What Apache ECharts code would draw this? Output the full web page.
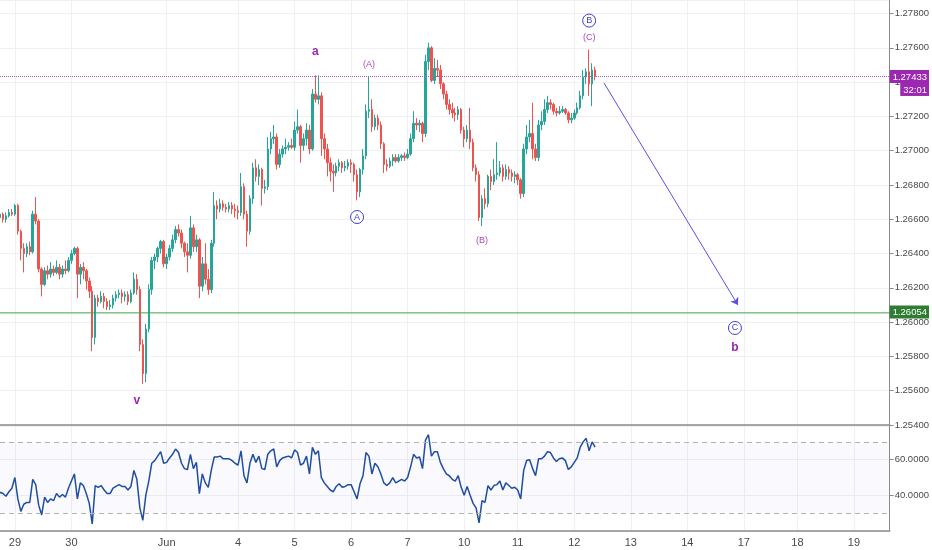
<!DOCTYPE html>
<html lang="en">
<head>
    <meta charset="UTF-8">
    <title>GBPUSD waves</title>
    <style>
        html, body { margin: 0; padding: 0; background: #fff; }
        #container { width: 932px; height: 550px; }
    </style>
</head>
<body>
    <div id="container"></div>
    <script src="https://cdn.jsdelivr.net/npm/echarts@6/dist/echarts.min.js"></script>
    <script>
        // hourly bars, [open, close, low, high]
        var candles = [
            [1.2661,1.2663,1.2659,1.2666],[1.2663,1.2660,1.2658,1.2664],[1.2660,1.2662,1.2658,1.2664],[1.2662,1.2664,1.2661,1.2666],
            [1.2664,1.2663,1.2662,1.2666],[1.2663,1.2668,1.2662,1.2669],[1.2668,1.2653,1.2651,1.2669],[1.2653,1.2643,1.2636,1.2654],
            [1.2643,1.2640,1.2629,1.2646],[1.2640,1.2644,1.2638,1.2646],[1.2644,1.2641,1.2639,1.2647],[1.2641,1.2663,1.2640,1.2665],
            [1.2663,1.2659,1.2657,1.2673],[1.2659,1.2631,1.2629,1.2660],[1.2631,1.2622,1.2615,1.2632],[1.2622,1.2630,1.2621,1.2632],
            [1.2630,1.2628,1.2625,1.2633],[1.2628,1.2631,1.2626,1.2635],[1.2631,1.2629,1.2627,1.2633],[1.2629,1.2632,1.2628,1.2636],
            [1.2632,1.2628,1.2625,1.2634],[1.2628,1.2631,1.2626,1.2633],[1.2631,1.2630,1.2628,1.2636],[1.2630,1.2636,1.2629,1.2638],
            [1.2636,1.2640,1.2634,1.2642],[1.2640,1.2643,1.2639,1.2644],[1.2643,1.2628,1.2614,1.2644],[1.2628,1.2632,1.2622,1.2634],
            [1.2632,1.2630,1.2625,1.2635],[1.2630,1.2624,1.2619,1.2631],[1.2624,1.2618,1.2614,1.2626],[1.2618,1.2591,1.2583,1.2621],
            [1.2591,1.2614,1.2587,1.2616],[1.2614,1.2612,1.2609,1.2616],[1.2612,1.2615,1.2611,1.2618],[1.2615,1.2612,1.2608,1.2617],
            [1.2612,1.2609,1.2607,1.2614],[1.2609,1.2610,1.2607,1.2613],[1.2610,1.2614,1.2608,1.2616],[1.2614,1.2616,1.2612,1.2618],
            [1.2616,1.2617,1.2614,1.2619],[1.2617,1.2615,1.2611,1.2619],[1.2615,1.2616,1.2612,1.2618],[1.2616,1.2612,1.2610,1.2618],
            [1.2612,1.2617,1.2611,1.2619],[1.2617,1.2625,1.2616,1.2629],[1.2625,1.2619,1.2616,1.2628],[1.2619,1.2587,1.2583,1.2621],
            [1.2587,1.2570,1.2564,1.2590],[1.2570,1.2596,1.2565,1.2599],[1.2596,1.2619,1.2594,1.2622],[1.2619,1.2636,1.2616,1.2638],
            [1.2636,1.2638,1.2631,1.2640],[1.2638,1.2643,1.2635,1.2644],[1.2643,1.2647,1.2640,1.2648],[1.2647,1.2634,1.2632,1.2648],
            [1.2634,1.2638,1.2631,1.2640],[1.2638,1.2643,1.2636,1.2645],[1.2643,1.2648,1.2641,1.2651],[1.2648,1.2654,1.2646,1.2656],
            [1.2654,1.2652,1.2650,1.2657],[1.2652,1.2646,1.2643,1.2654],[1.2646,1.2641,1.2638,1.2647],[1.2641,1.2639,1.2629,1.2646],
            [1.2639,1.2655,1.2637,1.2662],[1.2655,1.2644,1.2641,1.2657],[1.2644,1.2648,1.2641,1.2651],[1.2648,1.2621,1.2614,1.2649],
            [1.2621,1.2634,1.2618,1.2638],[1.2634,1.2625,1.2622,1.2646],[1.2625,1.2619,1.2616,1.2631],[1.2619,1.2646,1.2617,1.2648],
            [1.2646,1.2668,1.2644,1.2676],[1.2668,1.2666,1.2660,1.2671],[1.2666,1.2669,1.2664,1.2672],[1.2669,1.2667,1.2665,1.2671],
            [1.2667,1.2666,1.2664,1.2669],[1.2666,1.2668,1.2664,1.2670],[1.2668,1.2666,1.2663,1.2670],[1.2666,1.2665,1.2661,1.2669],
            [1.2665,1.2664,1.2660,1.2668],[1.2664,1.2679,1.2662,1.2687],[1.2679,1.2663,1.2660,1.2681],[1.2663,1.2653,1.2644,1.2665],
            [1.2653,1.2672,1.2651,1.2674],[1.2672,1.2690,1.2669,1.2693],[1.2690,1.2685,1.2682,1.2695],[1.2685,1.2689,1.2680,1.2692],
            [1.2689,1.2678,1.2668,1.2690],[1.2678,1.2679,1.2675,1.2683],[1.2679,1.2701,1.2677,1.2708],[1.2701,1.2707,1.2698,1.2711],
            [1.2707,1.2708,1.2704,1.2715],[1.2708,1.2692,1.2689,1.2710],[1.2692,1.2698,1.2690,1.2701],[1.2698,1.2701,1.2696,1.2703],
            [1.2701,1.2702,1.2698,1.2707],[1.2702,1.2703,1.2700,1.2705],[1.2703,1.2702,1.2701,1.2707],[1.2702,1.2712,1.2700,1.2717],
            [1.2712,1.2714,1.2710,1.2724],[1.2714,1.2703,1.2693,1.2715],[1.2703,1.2707,1.2700,1.2710],[1.2707,1.2712,1.2703,1.2716],
            [1.2712,1.2701,1.2698,1.2715],[1.2701,1.2733,1.2700,1.2736],[1.2733,1.2730,1.2728,1.2744],[1.2730,1.2732,1.2727,1.2744],
            [1.2732,1.2707,1.2697,1.2734],[1.2707,1.2701,1.2695,1.2710],[1.2701,1.2693,1.2685,1.2704],[1.2693,1.2688,1.2682,1.2696],
            [1.2688,1.2687,1.2676,1.2692],[1.2687,1.2691,1.2685,1.2693],[1.2691,1.2693,1.2688,1.2695],[1.2693,1.2690,1.2687,1.2694],
            [1.2690,1.2691,1.2688,1.2694],[1.2691,1.2693,1.2689,1.2695],[1.2693,1.2692,1.2687,1.2695],[1.2692,1.2686,1.2682,1.2693],
            [1.2686,1.2676,1.2671,1.2689],[1.2676,1.2689,1.2673,1.2690],[1.2689,1.2697,1.2686,1.2701],[1.2697,1.2723,1.2695,1.2727],
            [1.2723,1.2724,1.2719,1.2743],[1.2724,1.2714,1.2711,1.2730],[1.2714,1.2719,1.2712,1.2721],[1.2719,1.2715,1.2712,1.2721],
            [1.2715,1.2704,1.2701,1.2717],[1.2704,1.2692,1.2687,1.2705],[1.2692,1.2691,1.2688,1.2695],[1.2691,1.2694,1.2690,1.2696],
            [1.2694,1.2696,1.2691,1.2698],[1.2696,1.2694,1.2693,1.2698],[1.2694,1.2696,1.2693,1.2698],[1.2696,1.2697,1.2694,1.2698],
            [1.2697,1.2696,1.2694,1.2699],[1.2696,1.2698,1.2695,1.2701],[1.2698,1.2707,1.2697,1.2710],[1.2707,1.2716,1.2705,1.2723],
            [1.2716,1.2715,1.2712,1.2719],[1.2715,1.2716,1.2711,1.2718],[1.2716,1.2710,1.2705,1.2717],[1.2710,1.2752,1.2708,1.2756],
            [1.2752,1.2760,1.2747,1.2763],[1.2760,1.2741,1.2740,1.2761],[1.2741,1.2748,1.2739,1.2754],[1.2748,1.2747,1.2743,1.2753],
            [1.2747,1.2739,1.2736,1.2750],[1.2739,1.2733,1.2730,1.2740],[1.2733,1.2727,1.2724,1.2735],[1.2727,1.2724,1.2721,1.2730],
            [1.2724,1.2722,1.2719,1.2728],[1.2722,1.2721,1.2717,1.2725],[1.2721,1.2724,1.2718,1.2726],[1.2724,1.2712,1.2710,1.2725],
            [1.2712,1.2707,1.2702,1.2714],[1.2707,1.2712,1.2705,1.2715],[1.2712,1.2705,1.2701,1.2725],[1.2705,1.2690,1.2688,1.2707],
            [1.2690,1.2686,1.2682,1.2692],[1.2686,1.2661,1.2659,1.2688],[1.2661,1.2672,1.2656,1.2674],[1.2672,1.2669,1.2666,1.2678],
            [1.2669,1.2685,1.2667,1.2686],[1.2685,1.2682,1.2677,1.2689],[1.2682,1.2686,1.2680,1.2695],[1.2686,1.2687,1.2683,1.2705],
            [1.2687,1.2690,1.2685,1.2694],[1.2690,1.2685,1.2682,1.2692],[1.2685,1.2689,1.2683,1.2692],[1.2689,1.2687,1.2683,1.2691],
            [1.2687,1.2685,1.2682,1.2689],[1.2685,1.2686,1.2681,1.2688],[1.2686,1.2683,1.2680,1.2687],[1.2683,1.2675,1.2672,1.2684],
            [1.2675,1.2701,1.2673,1.2704],[1.2701,1.2708,1.2698,1.2715],[1.2708,1.2710,1.2705,1.2718],[1.2710,1.2701,1.2695,1.2728],
            [1.2701,1.2696,1.2694,1.2704],[1.2696,1.2715,1.2694,1.2718],[1.2715,1.2717,1.2712,1.2723],[1.2717,1.2724,1.2715,1.2730],
            [1.2724,1.2728,1.2722,1.2732],[1.2728,1.2727,1.2724,1.2730],[1.2727,1.2723,1.2721,1.2728],[1.2723,1.2722,1.2720,1.2725],
            [1.2722,1.2723,1.2721,1.2726],[1.2723,1.2724,1.2722,1.2726],[1.2724,1.2722,1.2721,1.2725],[1.2722,1.2718,1.2716,1.2723],
            [1.2718,1.2719,1.2716,1.2722],[1.2719,1.2722,1.2718,1.2724],[1.2722,1.2725,1.2721,1.2728],[1.2725,1.2732,1.2724,1.2735],
            [1.2732,1.2743,1.2730,1.2747],[1.2743,1.2746,1.2739,1.2748],[1.2746,1.2739,1.2732,1.2759],[1.2739,1.2747,1.2726,1.2751],
            [1.2747,1.27433,1.2741,1.2749]
        ];

        var rsi = [
            41.7,41,39.5,42,44,50,38,31,35,36,36,49,46,34.5,29,39,36,38,37,41,
            39,40.5,39,44,48,52,38,47,45.5,41,35.5,24,45.5,44.5,45.5,43,41,41,44,45,
            46,45,45,43,45,54,49,33,26,40,48,58,59.5,62,64.5,58,58.5,61,63,66,
            64,58,55,54.5,63,55,58.5,41,52,47,44.5,54,61.5,61.5,62,60.5,60.5,60.5,59.5,58,
            57,65,51,47,58,63,58.5,62,55,54.5,63,65,66,56,59.5,61,61.5,62,61,65.5,
            64,57,58,62,52,67,63,65,50,47,45,43,42,45,46.5,44.5,45,46,46,42,
            38,46.5,51,64,62,52,58,56,52,47,45.5,47,50,47,48,49,48,50,56,63,
            61,61.5,55,71,74,62,64.5,64.5,58.5,55,52,51,49,48,51,44.5,40,45,40,35.5,
            33,24.5,37,36,45.5,43,45.5,46,48,43,47,45.5,44,44.5,43,38,54,59.5,60,55,
            51,60.5,60.5,62,64.5,64,61,59,60.5,61,59.5,54.5,56,58.5,61,67,70,72,65,70,
            67
        ];

        // x slots (bars + empty future space) and day labels on them
        var SLOT_COUNT = 300;
        var dayTicks = [[5, '29'], [24, '30'], [56, 'Jun'], [80, '4'], [99, '5'], [118, '6'], [137, '7'],
            [156, '10'], [174, '11'], [193, '12'], [212, '13'], [231, '14'], [250, '17'], [268, '18'], [287, '19']];

        var lastPrice = 1.27433;
        var countdown = '32:01';
        var supportLevel = 1.26054;

        // wave marks: [text, bar index, price]
        var waveText = [['a', 106, 1.27576], ['b', 247, 1.25849], ['v', 46, 1.25540]];
        var waveSubText = [['(A)', 124, 1.27500], ['(B)', 162, 1.26479], ['(C)', 198, 1.27663]];
        var waveCircles = [['A', 120, 1.26613], ['B', 198, 1.27759], ['C', 247, 1.25966]];
        var arrowFrom = [202.5, 1.27395];
        var arrowTo = [248, 1.26100];

        var dayMap = {};
        dayTicks.forEach(function (d) { dayMap[d[0]] = d[1]; });
        var slots = [];
        for (var i = 0; i < SLOT_COUNT; i++) slots.push('s' + i);
        function isDay(idx) { return dayMap[idx] !== undefined; }

        var FONT = '"Liberation Sans", Arial, sans-serif';
        var PURPLE = '#9c27b0';
        var BLUE = '#3d3dd0';
        var gridColor = '#eef0f4';

        var marks = [];
        waveText.forEach(function (w) {
            marks.push({
                coord: [w[1], w[2]], symbol: 'circle', symbolSize: 1,
                itemStyle: { color: 'rgba(0,0,0,0)' },
                label: { show: true, position: 'inside', formatter: w[0], color: PURPLE, fontSize: 12, fontWeight: 'bold', fontFamily: FONT }
            });
        });
        waveSubText.forEach(function (w) {
            marks.push({
                coord: [w[1], w[2]], symbol: 'circle', symbolSize: 1,
                itemStyle: { color: 'rgba(0,0,0,0)' },
                label: { show: true, position: 'inside', formatter: w[0], color: '#ab47bc', fontSize: 9, fontFamily: FONT }
            });
        });
        waveCircles.forEach(function (w) {
            marks.push({
                coord: [w[1], w[2]], symbol: 'circle', symbolSize: 13,
                itemStyle: { color: '#fff', borderColor: BLUE, borderWidth: 1 },
                label: { show: true, position: 'inside', formatter: w[0], color: BLUE, fontSize: 9, fontFamily: FONT }
            });
        });

        var dom = document.getElementById('container');
        var myChart = echarts.init(dom);
        var option = {
            animation: false,
            backgroundColor: '#ffffff',
            textStyle: { fontFamily: FONT },
            grid: [
                { left: 0, right: 34, top: 0, height: 425 },
                { left: 0, right: 34, top: 426, height: 105 }
            ],
            xAxis: [
                {
                    type: 'category', gridIndex: 0, data: slots, boundaryGap: false,
                    axisLine: { show: true, lineStyle: { color: '#8a8a8a', width: 1.5 } },
                    axisTick: { show: false }, axisLabel: { show: false },
                    splitLine: { show: true, interval: isDay, lineStyle: { color: gridColor } }
                },
                {
                    type: 'category', gridIndex: 1, data: slots, boundaryGap: false,
                    axisLine: { show: true, lineStyle: { color: '#8a8a8a', width: 1.5 } },
                    axisTick: { show: false },
                    axisLabel: {
                        interval: isDay, margin: 6, color: '#4a4a4a', fontSize: 11,
                        formatter: function (v, idx) { return dayMap[idx] || ''; }
                    },
                    splitLine: { show: true, interval: isDay, lineStyle: { color: gridColor } }
                }
            ],
            yAxis: [
                {
                    type: 'value', gridIndex: 0, position: 'right',
                    min: 1.254, max: 1.27879, interval: 0.002,
                    axisLine: { show: true, lineStyle: { color: '#8a8a8a' } },
                    axisTick: { show: true, length: 4, lineStyle: { color: '#8a8a8a' } },
                    axisLabel: {
                        showMaxLabel: false, margin: 5, color: '#4a4a4a', fontSize: 9.5,
                        formatter: function (v) { return v.toFixed(5); }
                    },
                    splitLine: { lineStyle: { color: gridColor } }
                },
                {
                    type: 'value', gridIndex: 1, position: 'right',
                    min: 20, max: 78.9, interval: 20,
                    axisLine: { show: true, lineStyle: { color: '#8a8a8a' } },
                    axisTick: { show: true, length: 4, lineStyle: { color: '#8a8a8a' } },
                    axisLabel: {
                        showMinLabel: false, showMaxLabel: false, margin: 5, color: '#4a4a4a', fontSize: 9.5,
                        formatter: function (v) { return v.toFixed(4); }
                    },
                    splitLine: { lineStyle: { color: gridColor } }
                }
            ],
            series: [
                {
                    name: 'Support',
                    type: 'line',
                    xAxisIndex: 0, yAxisIndex: 0,
                    data: [[0, supportLevel], [SLOT_COUNT - 1, supportLevel]],
                    showSymbol: false,
                    silent: true,
                    lineStyle: { color: '#43a047', width: 1, type: 'solid' },
                    itemStyle: { color: '#43a047' },
                    endLabel: {
                        show: true, distance: 0, offset: [0, -1],
                        formatter: supportLevel.toFixed(5),
                        backgroundColor: '#2f7d32', color: '#fff', fontSize: 9.5, padding: [2, 2, 1, 3]
                    }
                },
                {
                    name: 'GBPUSD',
                    type: 'candlestick',
                    xAxisIndex: 0, yAxisIndex: 0,
                    data: candles,
                    barWidth: 2,
                    itemStyle: {
                        color: '#26a69a', color0: '#ef5350',
                        borderColor: '#26a69a', borderColor0: '#ef5350', borderWidth: 1
                    },
                    markLine: {
                        silent: true,
                        precision: 5,
                        symbol: ['none', 'none'],
                        label: { show: false },
                        data: [
                            {
                                yAxis: lastPrice,
                                lineStyle: { color: '#b459c4', type: 'dotted', width: 1 },
                                label: {
                                    show: true, position: 'end', distance: 0, offset: [0, 6.5],
                                    formatter: '{p|' + lastPrice.toFixed(5) + '}\n{t|' + countdown + '}',
                                    rich: {
                                        p: { backgroundColor: PURPLE, color: '#fff', fontSize: 9.5, padding: [2, 2, 1, 3], fontFamily: FONT },
                                        t: { backgroundColor: PURPLE, color: '#fff', fontSize: 9.5, padding: [2, 2, 1, 3], align: 'right', fontFamily: FONT }
                                    }
                                }
                            },
                            [
                                { coord: arrowFrom, symbol: 'none', lineStyle: { color: '#5b50e6', type: 'solid', width: 1 } },
                                { coord: arrowTo, symbol: 'arrow', symbolSize: 7 }
                            ]
                        ]
                    },
                    markPoint: { silent: true, data: marks }
                },
                {
                    name: 'RSI',
                    type: 'line',
                    xAxisIndex: 1, yAxisIndex: 1,
                    data: rsi,
                    showSymbol: false,
                    lineStyle: { color: '#1f4e9e', width: 1.5 },
                    markLine: {
                        silent: true,
                        symbol: ['none', 'none'],
                        label: { show: false },
                        lineStyle: { color: '#b4b4b4', type: [5, 4], width: 1 },
                        data: [{ yAxis: 70 }, { yAxis: 30 }]
                    },
                    markArea: {
                        silent: true,
                        itemStyle: { color: 'rgba(126,110,200,0.04)' },
                        data: [[{ yAxis: 30 }, { yAxis: 70 }]]
                    }
                }
            ]
        };

        if (option && typeof option === 'object') {
            myChart.setOption(option);
        }
    </script>
</body>
</html>
